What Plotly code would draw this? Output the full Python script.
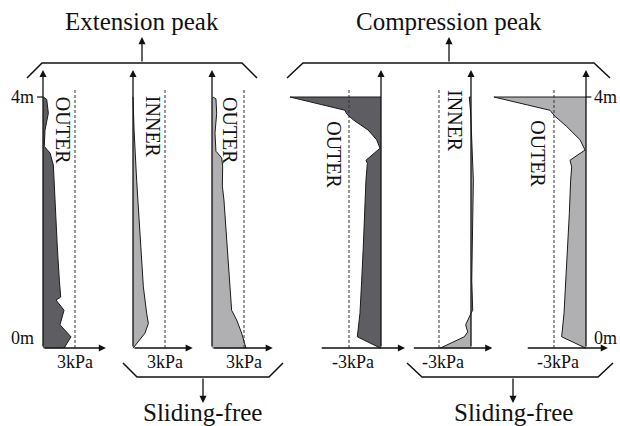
import plotly.graph_objects as go

W, H = 620, 426

# ---------------- data (kPa, m) ----------------
ext_outer_left_p = [0.03, 0.35, 0.5, 0.28, 0.19, 0.12, 0.66, 0.97, 1.03, 1.22, 1.34, 1.53, 1.66, 1.22, 1.97, 1.59, 2.62, 1.97]
ext_outer_left_d = [4.0, 3.96, 3.73, 3.51, 3.45, 3.18, 3.07, 2.87, 2.62, 2.07, 1.51, 0.96, 0.68, 0.63, 0.46, 0.22, 0.02, -0.17]

ext_inner_p = [0.0, 0.1, 0.34, 0.66, 0.97, 1.28, 1.44, 1.12, 0.0]
ext_inner_d = [4.0, 3.45, 2.62, 1.63, 0.85, 0.41, 0.24, 0.08, -0.17]

ext_outer_right_p = [0.07, 0.37, 0.44, 0.28, 0.37, 0.91, 1.0, 0.97, 1.12, 1.25, 1.38, 1.62, 1.84, 2.31, 2.78, 3.19]
ext_outer_right_d = [4.0, 3.97, 3.73, 3.4, 3.1, 2.99, 2.85, 2.52, 2.29, 1.96, 1.51, 0.96, 0.46, 0.3, 0.08, -0.17]

cmp_outer_left_p = [0.0, -8.53, -3.38, -3.22, -2.59, -1.2, -0.41, -0.09, -1.41, -1.28, -1.41, -1.5, -1.66, -1.81, -1.97, -2.22, -0.03]
cmp_outer_left_d = [4.0, 4.0, 3.78, 3.72, 3.62, 3.45, 3.29, 3.15, 2.95, 2.9, 2.62, 2.07, 1.51, 0.96, 0.41, 0.02, -0.17]

cmp_inner_p = [0.0, -0.16, -0.03, 0.22, 0.07, 0.16, 0.0, -0.5, -0.31, -0.63, -2.91]
cmp_inner_d = [4.0, 4.0, 3.73, 2.62, 0.96, 0.46, 0.41, 0.22, 0.1, 0.02, -0.17]

cmp_outer_right_p = [0.0, -8.63, -3.38, -2.91, -1.81, -0.56, -0.09, -1.5, -1.34, -1.44, -1.56, -1.71, -1.88, -2.06, -2.28, 0.0]
cmp_outer_right_d = [4.0, 4.0, 3.78, 3.68, 3.51, 3.29, 3.12, 2.95, 2.84, 2.62, 2.07, 1.51, 0.96, 0.41, 0.02, -0.17]

panel_labels = ["OUTER", "INNER", "OUTER", "OUTER", "INNER", "OUTER"]
tick_labels = ["3kPa", "3kPa", "3kPa", "-3kPa", "-3kPa", "-3kPa"]
ref_values = [3, 3, 3, -3, -3, -3]

# ---------------- layout geometry (pixels) ----------------
SX = 10.67          # px per kPa
SY = 60.25          # px per m
Y0 = 338            # pixel row of 0 m
OX = [43, 133, 212, 381, 471, 586]   # pixel column of 0 kPa per panel
DARK = "#5e5e62"
LIGHT = "#b0b0b2"
FONT = "Liberation Serif"

series = [
    (ext_outer_left_p, ext_outer_left_d, DARK),
    (ext_inner_p, ext_inner_d, LIGHT),
    (ext_outer_right_p, ext_outer_right_d, LIGHT),
    (cmp_outer_left_p, cmp_outer_left_d, DARK),
    (cmp_inner_p, cmp_inner_d, LIGHT),
    (cmp_outer_right_p, cmp_outer_right_d, LIGHT),
]
# x-axis arrow extents (kPa) per panel
xaxis_ext = [(0, 5.9), (0, 5.6), (0, 5.7), (-5.7, 2.25), (-5.5, 2.0), (-5.6, 2.05)]
label_pos = [(1.9, 3.45), (1.9, 3.5), (1.7, 3.45), (-4.4, 3.05), (-1.5, 3.6), (-4.5, 3.05)]

Y_BOT = -0.166
Y_TOP = 4.45
DASH_TOP = 4.15

fig = go.Figure()
layout = dict(width=W, height=H, margin=dict(l=0, r=0, t=0, b=0),
              paper_bgcolor="white", plot_bgcolor="rgba(0,0,0,0)",
              showlegend=False, font=dict(family=FONT, color="#111"))
annotations = []
shapes = []

for i, (p, d, col) in enumerate(series):
    k = "" if i == 0 else str(i + 1)
    xa, ya = "x" + k, "y" + k
    ox = OX[i]
    layout["xaxis" + k] = dict(domain=[0, 1], range=[(0 - ox) / SX, (W - ox) / SX],
                                visible=False, fixedrange=True, anchor=ya)
    layout["yaxis" + k] = dict(domain=[0, 1], range=[(Y0 - H) / SY, Y0 / SY],
                                visible=False, fixedrange=True, anchor=xa)
    fig.add_trace(go.Scatter(x=p, y=d, mode="lines", fill="tozerox", fillcolor=col,
                             line=dict(color="#1a1a1a", width=1), xaxis=xa, yaxis=ya,
                             hoverinfo="skip"))
    # dashed reference line
    shapes.append(dict(type="line", xref=xa, yref=ya, x0=ref_values[i], x1=ref_values[i],
                       y0=Y_BOT, y1=DASH_TOP, line=dict(color="#333", width=1, dash="3px,2px")))
    # vertical axis arrow
    annotations.append(dict(xref=xa, yref=ya, axref=xa, ayref=ya, x=0, y=Y_TOP, ax=0, ay=Y_BOT,
                            text="", showarrow=True, arrowhead=2, arrowsize=1.1, arrowwidth=1.3,
                            arrowcolor="#111"))
    # horizontal axis arrow
    x0e, x1e = xaxis_ext[i]
    annotations.append(dict(xref=xa, yref=ya, axref=xa, ayref=ya, x=x1e, y=Y_BOT, ax=x0e, ay=Y_BOT,
                            text="", showarrow=True, arrowhead=2, arrowsize=1.1, arrowwidth=1.3,
                            arrowcolor="#111"))
    # tick label
    annotations.append(dict(xref=xa, yref=ya, x=ref_values[i] + (0.35 if ref_values[i] < 0 else 0),
                            y=-0.4, text=tick_labels[i], showarrow=False, xanchor="center",
                            font=dict(size=18, family=FONT, color="#111"), yanchor="middle"))
    # panel label
    lx, ly = label_pos[i]
    annotations.append(dict(xref=xa, yref=ya, x=lx, y=ly, text=panel_labels[i], showarrow=False,
                            textangle=90, xanchor="center", yanchor="middle",
                            font=dict(size=20, family=FONT, color="#111")))

# depth tick marks / labels
shapes.append(dict(type="line", xref="x", yref="y", x0=-0.56, x1=0, y0=4, y1=4,
                   line=dict(color="#111", width=1.2)))
annotations.append(dict(xref="x", yref="y", x=-0.65, y=4, text="4m", showarrow=False, xanchor="right",
                        font=dict(size=18, family=FONT, color="#111")))
annotations.append(dict(xref="x", yref="y", x=-0.65, y=0, text="0m", showarrow=False, xanchor="right",
                        font=dict(size=18, family=FONT, color="#111")))
shapes.append(dict(type="line", xref="x6", yref="y6", x0=0, x1=0.5, y0=4, y1=4,
                   line=dict(color="#111", width=1.2)))
annotations.append(dict(xref="x6", yref="y6", x=0.6, y=4, text="4m", showarrow=False, xanchor="left",
                        font=dict(size=18, family=FONT, color="#111")))
annotations.append(dict(xref="x6", yref="y6", x=0.6, y=0, text="0m", showarrow=False, xanchor="left",
                        font=dict(size=18, family=FONT, color="#111")))


# ---------------- brackets (paper coords from pixels) ----------------
def px(x):
    return x / W


def py(y):
    return 1 - y / H


def bracket(x0, x1, yb, ye, dx):
    path = (f"M {px(x0)},{py(ye)} L {px(x0 + dx)},{py(yb)} "
            f"L {px(x1 - dx)},{py(yb)} L {px(x1)},{py(ye)}")
    return dict(type="path", xref="paper", yref="paper", path=path,
                line=dict(color="#111", width=1.5))


shapes.append(bracket(27, 257, 63, 78, 15))
shapes.append(bracket(287, 610, 63, 78, 16))
shapes.append(bracket(123, 283, 377, 363, 14))
shapes.append(bracket(407, 613, 377, 363, 15))

arrow_kw = dict(xref="paper", yref="paper", axref="pixel", ayref="pixel", text="", showarrow=True,
                arrowhead=2, arrowsize=1.1, arrowwidth=1.3, arrowcolor="#111")
annotations.append(dict(x=px(142), y=py(37), ax=0, ay=26, **arrow_kw))
annotations.append(dict(x=px(449), y=py(37), ax=0, ay=26, **arrow_kw))
annotations.append(dict(x=px(203), y=py(403), ax=0, ay=-26, **arrow_kw))
annotations.append(dict(x=px(513), y=py(403), ax=0, ay=-26, **arrow_kw))

title_font = dict(size=25, family=FONT, color="#111")
for tx, ty, txt in [(142, 22, "Extension peak"), (449, 22, "Compression peak"),
                    (203, 412, "Sliding-free"), (513, 412, "Sliding-free")]:
    annotations.append(dict(xref="paper", yref="paper", x=px(tx), y=py(ty), text=txt,
                            xanchor="center", yanchor="middle", showarrow=False, font=title_font))

layout["annotations"] = annotations
layout["shapes"] = shapes
fig.update_layout(**layout)
fig.write_html("out.html")
